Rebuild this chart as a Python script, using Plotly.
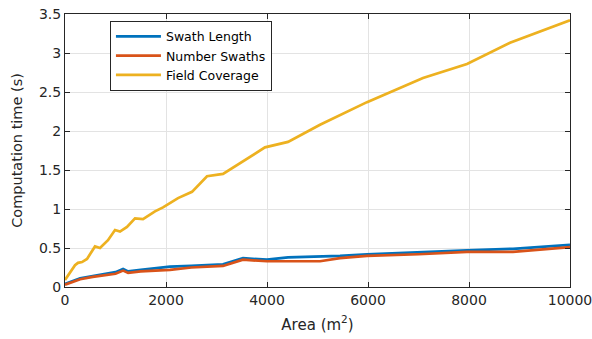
import plotly.graph_objects as go

# Swath Length / Number Swaths data
area_sw = [0, 300, 550, 1000, 1150, 1250, 1500, 2079, 2500, 3129, 3525, 4000, 4416, 5050, 5446, 5980, 7000, 7960, 8871, 10000]
swath_length = [0.04, 0.11, 0.14, 0.19, 0.23, 0.20, 0.22, 0.26, 0.27, 0.29, 0.37, 0.35, 0.38, 0.39, 0.40, 0.42, 0.45, 0.47, 0.49, 0.54]
number_swaths = [0.03, 0.10, 0.13, 0.17, 0.21, 0.18, 0.20, 0.22, 0.25, 0.27, 0.35, 0.33, 0.33, 0.33, 0.37, 0.40, 0.42, 0.45, 0.45, 0.51]

# Field Coverage data
area_fc = [0, 198, 257, 337, 436, 594, 693, 851, 990, 1089, 1228, 1386, 1545, 1782, 1941, 2238, 2515, 2812, 3129, 3465, 3960, 4416, 5050, 5980, 7089, 7960, 8812, 10000]
field_coverage = [0.09, 0.28, 0.31, 0.32, 0.36, 0.52, 0.50, 0.60, 0.73, 0.71, 0.77, 0.88, 0.87, 0.97, 1.02, 1.14, 1.22, 1.42, 1.45, 1.59, 1.79, 1.86, 2.08, 2.37, 2.68, 2.86, 3.13, 3.42]

x_ticks = [0, 2000, 4000, 6000, 8000, 10000]
y_ticks = [0, 0.5, 1, 1.5, 2, 2.5, 3, 3.5]
y_tick_text = ["0", "0.5", "1", "1.5", "2", "2.5", "3", "3.5"]

fig = go.Figure()
fig.add_trace(go.Scatter(x=area_sw, y=swath_length, mode="lines", name="Swath Length",
                         line=dict(color="#0072BD", width=2.7)))
fig.add_trace(go.Scatter(x=area_sw, y=number_swaths, mode="lines", name="Number Swaths",
                         line=dict(color="#D95319", width=2.7)))
fig.add_trace(go.Scatter(x=area_fc, y=field_coverage, mode="lines", name="Field Coverage",
                         line=dict(color="#EDB120", width=2.7)))

axis_common = dict(
    showline=True, linecolor="#262626", linewidth=1, mirror="ticks",
    ticks="inside", ticklen=5, tickcolor="#262626",
    showgrid=True, gridcolor="#e3e3e3", gridwidth=1, zeroline=False,
    tickfont=dict(family="DejaVu Sans", size=14, color="#262626"),
    automargin=False, ticklabeloverflow="allow",
)

fig.update_layout(
    width=592, height=339,
    margin=dict(l=65, r=22, t=14, b=52, autoexpand=False),
    paper_bgcolor="white", plot_bgcolor="white",
    font=dict(family="DejaVu Sans", color="#262626"),
    xaxis=dict(range=[0, 10000], tickvals=x_ticks, ticktext=[str(v) for v in x_ticks],
               title=dict(text="Area (m<sup>2</sup>)", font=dict(size=15), standoff=12),
               **axis_common),
    yaxis=dict(range=[0, 3.5], tickvals=y_ticks, ticktext=y_tick_text,
               title=dict(text="Computation time (s)", font=dict(size=14.5), standoff=12),
               **axis_common),
    legend=dict(x=0.089, y=0.975, xanchor="left", yanchor="top",
                bgcolor="white", bordercolor="#262626", borderwidth=1,
                font=dict(family="DejaVu Sans", size=12.5, color="#000000"),
                tracegroupgap=0, itemwidth=45),
    showlegend=True,
)

fig.write_html("out.html", config={"displayModeBar": False},
               post_script="document.body.style.margin='0';")
